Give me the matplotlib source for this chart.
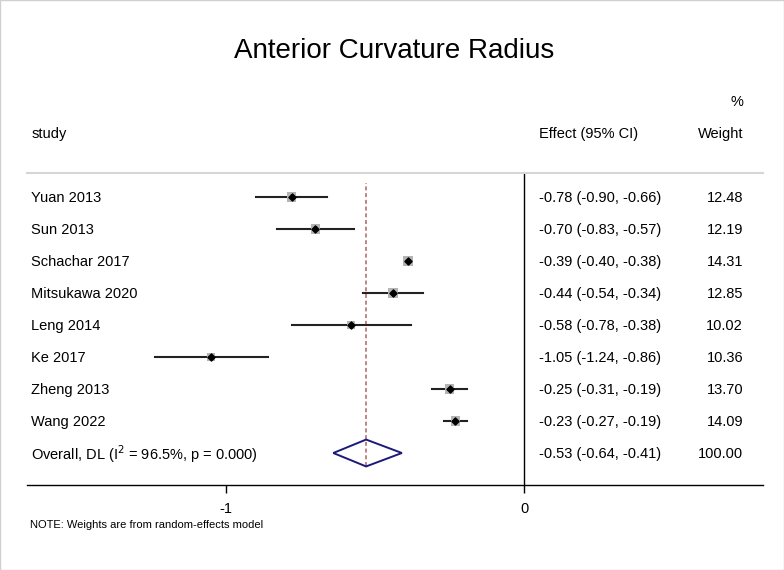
import matplotlib.pyplot as plt
import numpy as np

plt.rcParams['font.family'] = ['Liberation Sans', 'DejaVu Sans']

studies = ['Yuan 2013', 'Sun 2013', 'Schachar 2017', 'Mitsukawa 2020',
           'Leng 2014', 'Ke 2017', 'Zheng 2013', 'Wang 2022']
effect = [-0.78, -0.70, -0.39, -0.44, -0.58, -1.05, -0.25, -0.23]
lower = [-0.90, -0.83, -0.40, -0.54, -0.78, -1.24, -0.31, -0.27]
upper = [-0.66, -0.57, -0.38, -0.34, -0.38, -0.86, -0.19, -0.19]
weight = [12.48, 12.19, 14.31, 12.85, 10.02, 10.36, 13.70, 14.09]

overall_label = 'Overall, DL (I$^2$ = 96.5%, p = 0.000)'
overall = -0.53
overall_lo = -0.64
overall_hi = -0.41
overall_weight = 100.00

fig = plt.figure(figsize=(7.84, 5.70), dpi=100, facecolor='white')
# axes from x=27..763 px, y=173..485 px
ax = fig.add_axes([27/784, (570-485)/570, (763-27)/784, (485-173)/570])
ax.set_xlim(-1.668, 0.802)
ax.set_ylim(0, 9.75)

n = len(studies)
ypos = np.arange(n, 0, -1) + 1  # 9..2
y_over = 1

# confidence intervals
for y, lo, hi in zip(ypos, lower, upper):
    ax.plot([lo, hi], [y, y], color='#222222', linewidth=1.5, zorder=3)

# weighted gray boxes and point estimates
ax.scatter(effect, ypos, marker='s', s=np.array(weight) * 3.6,
           color='#b4b4b4', zorder=4, linewidths=0)
ax.scatter(effect, ypos, marker='D', s=13, color='black', zorder=5)

# overall diamond
ax.fill([overall_lo, overall, overall_hi, overall, overall_lo],
        [y_over, y_over + 0.42, y_over, y_over - 0.42, y_over],
        facecolor='none', edgecolor='#1a1a7a', linewidth=1.4, zorder=4)

# overall effect dashed line
ax.plot([overall, overall], [0.59, 9.44], color='#b06262',
        linestyle=(0, (2.6, 1.8)), linewidth=1.1, zorder=2)

# null line
ax.plot([0, 0], [0, 9.75], color='black', linewidth=1, zorder=2)

# spines
for s in ['left', 'right']:
    ax.spines[s].set_visible(False)
ax.spines['top'].set_color('#d6d6d6')
ax.spines['top'].set_linewidth(1.5)
ax.spines['bottom'].set_linewidth(1)
ax.set_yticks([])
ax.set_xticks([-1, 0])
ax.set_xticklabels(['-1', '0'], fontsize=10.5)
ax.tick_params(axis='x', length=6, width=1, pad=6)

# text columns
fs = 10.5
tx_lab = (31 - 524) / 298
tx_eff = (539 - 524) / 298
tx_w = (743 - 524) / 298
for y, name, e, lo, hi, w in zip(ypos, studies, effect, lower, upper, weight):
    ax.text(tx_lab, y - 0.03, name, fontsize=fs, va='center', ha='left')
    ax.text(tx_eff, y - 0.03, f'{e:.2f} ({lo:.2f}, {hi:.2f})', fontsize=fs, va='center', ha='left')
    ax.text(tx_w, y - 0.03, f'{w:.2f}', fontsize=fs, va='center', ha='right')

ax.text(tx_lab, y_over - 0.03, overall_label, fontsize=fs, va='center', ha='left')
ax.text(tx_eff, y_over - 0.03, f'{overall:.2f} ({overall_lo:.2f}, {overall_hi:.2f})',
        fontsize=fs, va='center', ha='left')
ax.text(tx_w, y_over - 0.03, f'{overall_weight:.2f}', fontsize=fs, va='center', ha='right')

# headers
ax.text(tx_lab, 10.97, 'study', fontsize=fs, va='center', ha='left', clip_on=False)
ax.text(tx_eff, 10.97, 'Effect (95% CI)', fontsize=fs, va='center', ha='left', clip_on=False)
ax.text(tx_w, 10.97, 'Weight', fontsize=fs, va='center', ha='right', clip_on=False)
ax.text(tx_w, 11.97, '%', fontsize=fs, va='center', ha='right', clip_on=False)

fig.text(394/784, 1 - 51/570, 'Anterior Curvature Radius', fontsize=20,
         ha='center', va='center')
fig.text(30/784, 1 - 525/570, 'NOTE: Weights are from random-effects model',
         fontsize=8, ha='left', va='center')

# thin outer border
fig.patches.append(plt.Rectangle((0, 0), 1, 1, transform=fig.transFigure,
                                 fill=False, edgecolor='#d0d0d0', linewidth=1))

fig.savefig('out.png', dpi=100, facecolor='white')
